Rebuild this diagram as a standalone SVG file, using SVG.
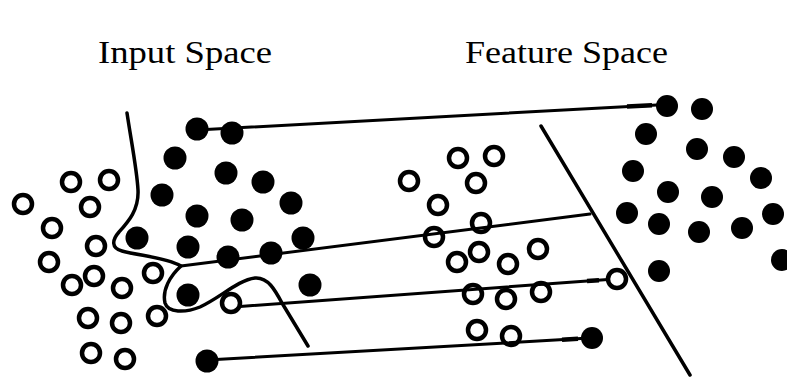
<svg xmlns="http://www.w3.org/2000/svg" width="787" height="385" viewBox="0 0 787 385">
  <style>
    .title { font-family: "Liberation Serif", "Times New Roman", serif; font-size: 32px; fill: #000; }
    .open { fill: #fff; stroke: #000; stroke-width: 4.5; }
    .dot { fill: #000; }
    .link { fill: none; stroke: #000; stroke-width: 3; stroke-linecap: round; }
    .tip { fill: none; stroke: #000; stroke-width: 4.5; stroke-linecap: butt; }
    .boundary { fill: none; stroke: #000; stroke-width: 3.5; stroke-linecap: round; stroke-linejoin: round; }
  </style>
  <rect width="787" height="385" fill="#fff"/>

  <!-- titles -->
  <g id="labels">
    <text class="title" x="98" y="63" textLength="174" lengthAdjust="spacingAndGlyphs">Input Space</text>
    <text class="title" x="465" y="63" textLength="203" lengthAdjust="spacingAndGlyphs">Feature Space</text>
  </g>

  <!-- input space: hollow class -->
  <g id="input-hollow">
    <circle class="open" cx="71" cy="182" r="9"/>
    <circle class="open" cx="109" cy="180" r="9"/>
    <circle class="open" cx="23" cy="204" r="9"/>
    <circle class="open" cx="90" cy="207" r="9"/>
    <circle class="open" cx="52" cy="228" r="9"/>
    <circle class="open" cx="96" cy="246" r="9"/>
    <circle class="open" cx="49" cy="262" r="9"/>
    <circle class="open" cx="94" cy="276" r="9"/>
    <circle class="open" cx="72" cy="285" r="9"/>
    <circle class="open" cx="122" cy="288" r="9"/>
    <circle class="open" cx="153" cy="273" r="9"/>
    <circle class="open" cx="88" cy="318" r="9"/>
    <circle class="open" cx="121" cy="323" r="9"/>
    <circle class="open" cx="157" cy="316" r="9"/>
    <circle class="open" cx="91" cy="353" r="9"/>
    <circle class="open" cx="125" cy="359" r="9"/>
    <circle class="open" cx="231" cy="303" r="9"/>
  </g>

  <!-- input space: solid class -->
  <g id="input-solid">
    <circle class="dot" cx="197" cy="129" r="11.5"/>
    <circle class="dot" cx="232" cy="133" r="11.5"/>
    <circle class="dot" cx="175" cy="158" r="11.5"/>
    <circle class="dot" cx="226" cy="173" r="11.5"/>
    <circle class="dot" cx="263" cy="182" r="11.5"/>
    <circle class="dot" cx="162" cy="195" r="11.5"/>
    <circle class="dot" cx="291" cy="203" r="11.5"/>
    <circle class="dot" cx="197" cy="216" r="11.5"/>
    <circle class="dot" cx="242" cy="220" r="11.5"/>
    <circle class="dot" cx="137" cy="238" r="11.5"/>
    <circle class="dot" cx="188" cy="247" r="11.5"/>
    <circle class="dot" cx="228" cy="257" r="11.5"/>
    <circle class="dot" cx="271" cy="253" r="11.5"/>
    <circle class="dot" cx="303" cy="238" r="11.5"/>
    <circle class="dot" cx="310" cy="285" r="11.5"/>
    <circle class="dot" cx="188" cy="295" r="11.5"/>
    <circle class="dot" cx="207" cy="361" r="11.5"/>
  </g>

  <!-- feature space: hollow class -->
  <g id="feature-hollow">
    <circle class="open" cx="458" cy="158" r="9"/>
    <circle class="open" cx="494" cy="156" r="9"/>
    <circle class="open" cx="409" cy="181" r="9"/>
    <circle class="open" cx="476" cy="183" r="9"/>
    <circle class="open" cx="438" cy="205" r="9"/>
    <circle class="open" cx="481" cy="223" r="9"/>
    <circle class="open" cx="434" cy="237" r="9"/>
    <circle class="open" cx="457" cy="262" r="9"/>
    <circle class="open" cx="479" cy="252" r="9"/>
    <circle class="open" cx="508" cy="264" r="9"/>
    <circle class="open" cx="538" cy="249" r="9"/>
    <circle class="open" cx="473" cy="294" r="9"/>
    <circle class="open" cx="506" cy="299" r="9"/>
    <circle class="open" cx="541" cy="292" r="9"/>
    <circle class="open" cx="477" cy="330" r="9"/>
    <circle class="open" cx="511" cy="336" r="9"/>
    <circle class="open" cx="617" cy="279" r="9"/>
  </g>

  <!-- feature space: solid class -->
  <g id="feature-solid">
    <circle class="dot" cx="667" cy="106" r="11"/>
    <circle class="dot" cx="702" cy="109" r="11"/>
    <circle class="dot" cx="646" cy="134" r="11"/>
    <circle class="dot" cx="697" cy="149" r="11"/>
    <circle class="dot" cx="734" cy="157" r="11"/>
    <circle class="dot" cx="633" cy="171" r="11"/>
    <circle class="dot" cx="668" cy="192" r="11"/>
    <circle class="dot" cx="712" cy="197" r="11"/>
    <circle class="dot" cx="761" cy="178" r="11"/>
    <circle class="dot" cx="627" cy="213" r="11"/>
    <circle class="dot" cx="659" cy="224" r="11"/>
    <circle class="dot" cx="699" cy="232" r="11"/>
    <circle class="dot" cx="742" cy="228" r="11"/>
    <circle class="dot" cx="773" cy="214" r="11"/>
    <circle class="dot" cx="782" cy="260" r="11"/>
    <circle class="dot" cx="659" cy="271" r="11"/>
    <circle class="dot" cx="592" cy="338" r="11"/>
  </g>

  <!-- decision boundaries -->
  <g id="boundaries">
    <path class="boundary" d="M127,113 C131,140 137,170 138,190 C139,210 128,222 119,232 C112,240 111,248 122,251 C140,256 165,257 181,266 C170,276 162,290 165,303 C168,313 185,313 200,307 C220,298 238,280 255,278 C268,277 275,290 282,303 L308,346"/>
    <path class="boundary" d="M541,126 L690,375"/>
  </g>

  <!-- mapping connectors -->
  <g id="connectors">
    <path class="link" d="M197,130 L657,105"/>
    <path class="tip" d="M627,106.6 L652,105.3"/>
    <path class="link" d="M181,266 L590,214"/>
    <path class="link" d="M240,306.5 L608,279.5"/>
    <path class="tip" d="M587,281 L599,280.2"/>
    <path class="link" d="M207,360 L581,338.6"/>
    <path class="tip" d="M562,339.7 L578,338.8"/>
  </g>
</svg>
